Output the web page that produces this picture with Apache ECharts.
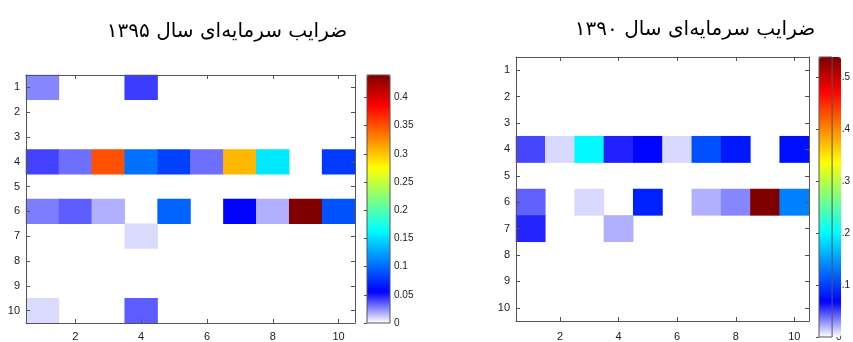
<!DOCTYPE html>
<html>
<head>
<meta charset="utf-8">
<script src="https://cdn.jsdelivr.net/npm/echarts@6/dist/echarts.min.js"></script>
<style>
  html, body { margin: 0; padding: 0; background: #fff; }
  #chart { width: 853px; height: 342px; }
</style>
</head>
<body>
<div id="chart"></div>
<script>
const colLabels = ['1', '2', '3', '4', '5', '6', '7', '8', '9', '10'];
const rowLabels = ['1', '2', '3', '4', '5', '6', '7', '8', '9', '10'];

const titles = ['ضرایب سرمایه‌ای سال ۱۳۹۵', 'ضرایب سرمایه‌ای سال ۱۳۹۰'];

// rows 1..10, columns 1..10 (0 = empty cell)
const coef1395 = [
  [0.026, 0, 0, 0.042, 0, 0, 0, 0, 0, 0],
  [0, 0, 0, 0, 0, 0, 0, 0, 0, 0],
  [0, 0, 0, 0, 0, 0, 0, 0, 0, 0],
  [0.041, 0.031, 0.351, 0.103, 0.083, 0.031, 0.306, 0.155, 0, 0.080],
  [0, 0, 0, 0, 0, 0, 0, 0, 0, 0],
  [0.028, 0.035, 0.017, 0, 0.097, 0, 0.056, 0.017, 0.44, 0.090],
  [0, 0, 0, 0.008, 0, 0, 0, 0, 0, 0],
  [0, 0, 0, 0, 0, 0, 0, 0, 0, 0],
  [0, 0, 0, 0, 0, 0, 0, 0, 0, 0],
  [0.008, 0, 0, 0.035, 0, 0, 0, 0, 0, 0],
];

const coef1390 = [
  [0, 0, 0, 0, 0, 0, 0, 0, 0, 0],
  [0, 0, 0, 0, 0, 0, 0, 0, 0, 0],
  [0, 0, 0, 0, 0, 0, 0, 0, 0, 0],
  [0.049, 0.010, 0.20, 0.059, 0.070, 0.010, 0.109, 0.080, 0, 0.075],
  [0, 0, 0, 0, 0, 0, 0, 0, 0, 0],
  [0.042, 0, 0.010, 0, 0.085, 0, 0.021, 0.032, 0.54, 0.135],
  [0.058, 0, 0, 0.021, 0, 0, 0, 0, 0, 0],
  [0, 0, 0, 0, 0, 0, 0, 0, 0, 0],
  [0, 0, 0, 0, 0, 0, 0, 0, 0, 0],
  [0, 0, 0, 0, 0, 0, 0, 0, 0, 0],
];

const colorMax = [0.44, 0.54];
const colorStep = [0.05, 0.1];

// white -> blue at the bottom, then jet up to dark red
const cmap = ['#ffffff', '#0000ff', '#0080ff', '#00ffff', '#80ff80',
  '#ffff00', '#ff8000', '#ff0000', '#800000'];

function toCells(matrix) {
  const out = [];
  matrix.forEach((row, r) => {
    row.forEach((v, c) => {
      if (v > 0) out.push([c, r, v]);
    });
  });
  return out;
}

const even = (i) => i % 2 === 1;
const lineStyle = { color: '#555', width: 1 };

function heatAxes(gridIndex, fontSize, xMargin) {
  const label = { fontSize: fontSize, color: '#222', fontFamily: 'Liberation Sans' };
  const x = [
    {
      type: 'category', gridIndex, data: colLabels, position: 'bottom', z: 5,
      axisLine: { show: true, lineStyle },
      axisTick: { show: true, inside: true, length: 4, alignWithLabel: true, interval: even, lineStyle },
      axisLabel: Object.assign({ interval: even, margin: xMargin }, label),
      splitLine: { show: false },
    },
    {
      type: 'category', gridIndex, data: colLabels, position: 'top', z: 5,
      axisLine: { show: true, lineStyle },
      axisTick: { show: true, inside: true, length: 4, alignWithLabel: true, interval: even, lineStyle },
      axisLabel: { show: false },
    },
  ];
  const y = [
    {
      type: 'category', gridIndex, data: rowLabels, inverse: true, position: 'left', z: 5,
      axisLine: { show: true, lineStyle },
      axisTick: { show: true, inside: true, length: 4, alignWithLabel: true, interval: 0, lineStyle },
      axisLabel: Object.assign({ interval: 0, margin: 6 }, label),
    },
    {
      type: 'category', gridIndex, data: rowLabels, inverse: true, position: 'right', z: 5,
      axisLine: { show: true, lineStyle },
      axisTick: { show: true, inside: true, length: 4, alignWithLabel: true, interval: 0, lineStyle },
      axisLabel: { show: false },
    },
  ];
  return { x, y };
}

const leftAxes = heatAxes(0, 11, 8);
const rightAxes = heatAxes(1, 11, 10);

function barAxes(gridIndex, max, step) {
  return {
    x: {
      type: 'value', gridIndex, show: false, min: 0, max: 1,
    },
    y: {
      type: 'value', gridIndex, position: 'right', min: 0, max: max, interval: step,
      axisLine: { show: false },
      axisTick: { show: true, inside: true, length: 3, lineStyle },
      axisLabel: { fontSize: 10, color: '#222', margin: 4, showMaxLabel: false, fontFamily: 'Liberation Sans' },
      splitLine: { show: false },
    },
  };
}

const leftBar = barAxes(2, colorMax[0], colorStep[0]);
const rightBar = barAxes(3, colorMax[1], colorStep[1]);

const chart = echarts.init(document.getElementById('chart'));

const titleStyle = { fontFamily: 'DejaVu Sans', fontSize: 20, fontWeight: 'normal', color: '#000' };

chart.setOption({
  backgroundColor: '#fff',
  animation: false,
  title: [
    { text: titles[0], left: 222, top: 17, textAlign: 'center', textStyle: titleStyle },
    { text: titles[1], left: 690, top: 15, textAlign: 'center', textStyle: titleStyle },
  ],
  grid: [
    { left: 26, top: 75, width: 329, height: 248 },
    { left: 516, top: 57, width: 293, height: 272 },
    { left: 367, top: 75, width: 23, height: 248, show: true, z: 10,
      backgroundColor: 'transparent', borderColor: '#555', borderWidth: 1 },
    { left: 819, top: 57, width: 22, height: 280, show: true, z: 10,
      backgroundColor: 'transparent', borderColor: '#555', borderWidth: 1 },
  ],
  xAxis: [...leftAxes.x, ...rightAxes.x, leftBar.x, rightBar.x],
  yAxis: [...leftAxes.y, ...rightAxes.y, leftBar.y, rightBar.y],
  visualMap: [
    {
      type: 'continuous', seriesIndex: 0, min: 0, max: colorMax[0],
      calculable: false, orient: 'vertical', padding: 0,
      left: 367, top: 75, itemWidth: 23, itemHeight: 248,
      text: null, showLabel: false,
      inRange: { color: cmap },
    },
    {
      type: 'continuous', seriesIndex: 1, min: 0, max: colorMax[1],
      calculable: false, orient: 'vertical', padding: 0,
      left: 819, top: 57, itemWidth: 22, itemHeight: 280,
      text: null, showLabel: false,
      inRange: { color: cmap },
    },
  ],
  series: [
    {
      type: 'heatmap', xAxisIndex: 0, yAxisIndex: 0,
      data: toCells(coef1395),
      itemStyle: { borderWidth: 0 },
      emphasis: { disabled: true },
    },
    {
      type: 'heatmap', xAxisIndex: 2, yAxisIndex: 2,
      data: toCells(coef1390),
      itemStyle: { borderWidth: 0 },
      emphasis: { disabled: true },
    },
  ],
});
</script>
</body>
</html>
